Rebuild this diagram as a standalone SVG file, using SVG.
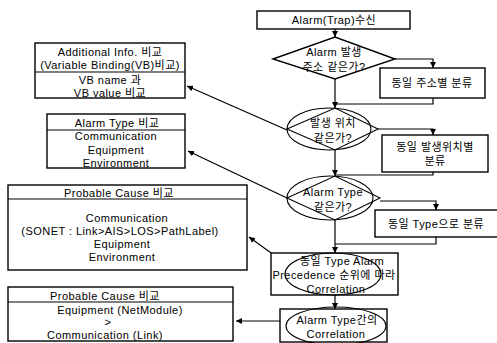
<svg xmlns="http://www.w3.org/2000/svg" width="497" height="343" viewBox="0 0 497 343">
<defs>
<marker id="ah" viewBox="0 0 10 10" refX="10" refY="5" markerWidth="6" markerHeight="6" orient="auto" markerUnits="userSpaceOnUse">
<path d="M0,0 L10,5 L0,10 z" fill="#000"/>
</marker>
<style>
text{font-family:"Liberation Sans","Noto Sans CJK KR",sans-serif;font-size:11px;letter-spacing:0.45px;fill:#000;text-anchor:middle}
.b{fill:#fff;stroke:#000;stroke-width:1.4}
.s{fill:none;stroke:#000;stroke-width:1.1}
.c{fill:none;stroke:#000;stroke-width:1.2}
.a{fill:none;stroke:#000;stroke-width:1.2;marker-end:url(#ah)}
</style>
</defs>
<rect width="497" height="343" fill="#fff"/>

<g id="connectors">
<path class="a" d="M335,29 V37"/>
<path class="a" d="M395,59 H433 V68"/>
<path class="a" d="M335,79 V108"/>
<path class="c" d="M433,98 V104 H335"/>
<path class="a" d="M378,129 H433 V135"/>
<path class="a" d="M335,150 V176"/>
<path class="c" d="M433,172 V175 H335"/>
<path class="a" d="M380,201 H436 V210"/>
<path class="a" d="M335,220 V253"/>
<path class="c" d="M436,237 V244 H335"/>
<path class="a" d="M335,295 V309"/>
<path class="a" d="M287,130 L187,86"/>
<path class="a" d="M287,198 L188,151"/>
<path class="a" d="M285,263 L249,237"/>
<path class="a" d="M283,321 L236,321"/>
</g>

<g id="n-trap">
<rect class="b" x="257" y="11" width="153" height="18"/>
<text x="334" y="24">Alarm(Trap)수신</text>
</g>

<g id="n-d1">
<polygon class="b" points="273,59 335,37 395,59 335,79"/>
<text x="334" y="56">Alarm 발생</text>
<text x="334" y="71">주소 같은가?</text>
</g>

<g id="n-r1">
<rect class="b" x="380" y="68" width="105" height="30"/>
<text x="432" y="87">동일 주소별 분류</text>
</g>

<g id="n-d2">
<ellipse class="s" cx="329" cy="129" rx="42" ry="21"/>
<polygon class="s" points="287,129 335,108 378,129 335,150"/>
<text x="333" y="127">발생 위치</text>
<text x="333" y="142">같은가?</text>
</g>

<g id="n-r2">
<rect class="b" x="382" y="135" width="106" height="37"/>
<text x="435" y="151">동일 발생위치별</text>
<text x="435" y="165">분류</text>
</g>

<g id="n-d3">
<ellipse class="s" cx="330" cy="198" rx="43" ry="22"/>
<polygon class="s" points="287,198 335,176 380,198 335,220"/>
<text x="333" y="196">Alarm Type</text>
<text x="333" y="211">같은가?</text>
</g>

<g id="n-r3">
<rect class="b" x="375" y="210" width="125" height="27"/>
<text x="436" y="228">동일 Type으로 분류</text>
</g>

<g id="n-prec">
<rect class="b" x="271" y="253" width="127" height="42"/>
<ellipse class="s" cx="333" cy="274" rx="48" ry="21"/>
<text x="342" y="265">동일 Type Alarm</text>
<text x="334" y="279">Precedence 순위에 따라</text>
<text x="336" y="293">Correlation</text>
</g>

<g id="n-corr">
<rect class="b" x="280" y="309" width="107" height="33"/>
<ellipse class="s" cx="336" cy="326" rx="50" ry="19"/>
<text x="337" y="324">Alarm Type간의</text>
<text x="336" y="338">Correlation</text>
</g>

<g id="n-add">
<rect class="b" x="35" y="43" width="150" height="55"/>
<line class="c" x1="35" y1="72" x2="185" y2="72"/>
<text x="110" y="56">Additional Info. 비교</text>
<text x="110" y="69">(Variable Binding(VB)비교)</text>
<text x="110" y="84">VB  name 과</text>
<text x="110" y="97">VB  value 비교</text>
</g>

<g id="n-type">
<rect class="b" x="47" y="114" width="138" height="54"/>
<line class="c" x1="47" y1="130" x2="185" y2="130"/>
<text x="117" y="127">Alarm Type 비교</text>
<text x="116" y="140">Communication</text>
<text x="116" y="154">Equipment</text>
<text x="116" y="167">Environment</text>
</g>

<g id="n-pc1">
<rect class="b" x="8" y="185" width="239" height="85"/>
<line class="c" x1="8" y1="199" x2="247" y2="199"/>
<text x="119" y="197">Probable Cause 비교</text>
<text x="127" y="222">Communication</text>
<text x="120" y="235">(SONET : Link&gt;AIS&gt;LOS&gt;PathLabel)</text>
<text x="122" y="248">Equipment</text>
<text x="122" y="261">Environment</text>
</g>

<g id="n-pc2">
<rect class="b" x="8" y="287" width="225" height="54"/>
<line class="c" x1="8" y1="302" x2="233" y2="302"/>
<text x="105" y="300">Probable Cause 비교</text>
<text x="120" y="314">Equipment  (NetModule)</text>
<text x="108" y="326">&gt;</text>
<text x="105" y="339">Communication (Link)</text>
</g>
</svg>
